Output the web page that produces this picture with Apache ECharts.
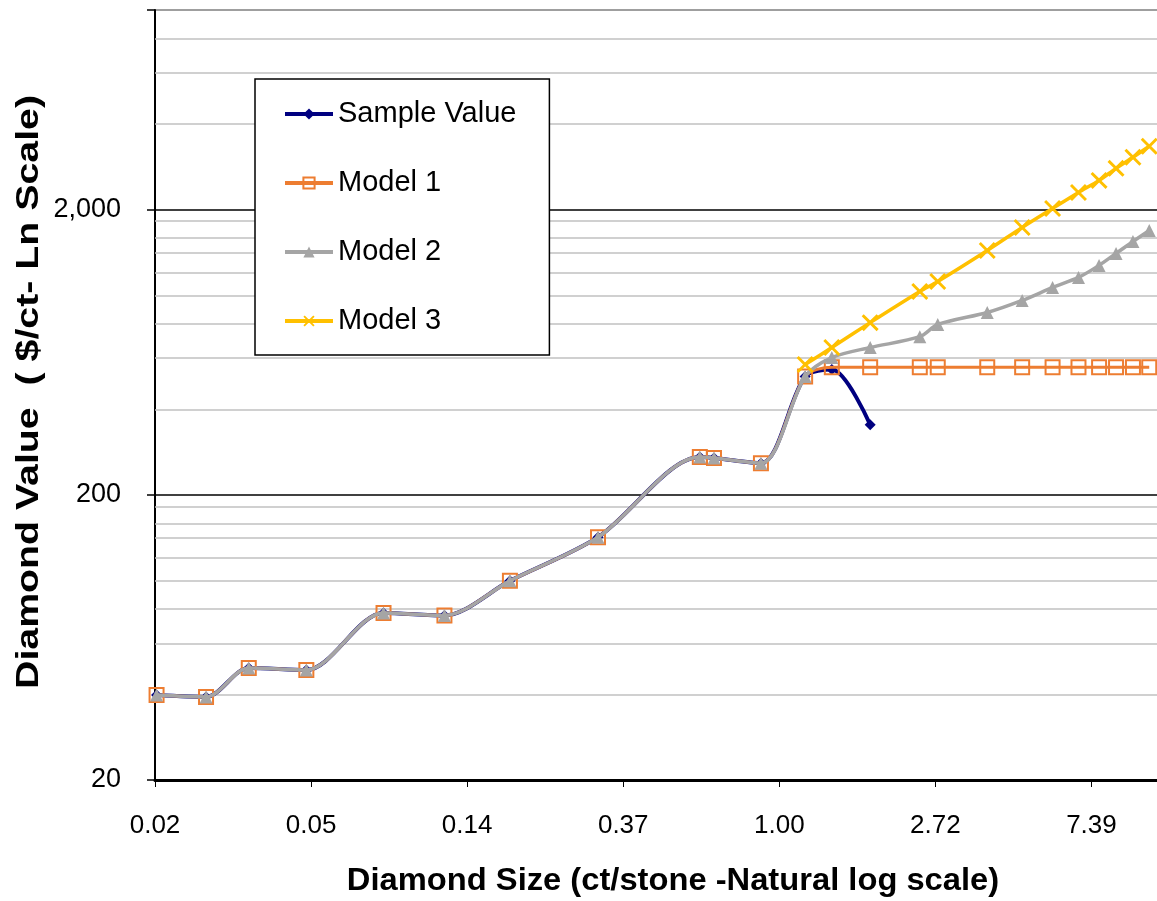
<!DOCTYPE html>
<html>
<head>
<meta charset="utf-8">
<script src="https://cdn.jsdelivr.net/npm/echarts@6/dist/echarts.min.js"></script>
<style>
html,body{margin:0;padding:0;background:#fff;}
#chart{width:1157px;height:901px;}
</style>
</head>
<body>
<div id="chart"></div>
<script>
// Diamond size (ct/stone) at each point
const sizes = [0.0185, 0.0254, 0.0334, 0.0483, 0.0792, 0.117, 0.178, 0.313, 0.601, 0.658, 0.889,
               1.18, 1.40, 1.79, 2.46, 2.76, 3.79, 4.74, 5.76, 6.80, 7.76, 8.65, 9.64, 10.7];
// Diamond value ($/ct)
const sampleValue = [39.7, 39.1, 49.4, 48.6, 77, 75.5, 99.8, 142, 271, 269, 258, 519, 549, 352,
                     null, null, null, null, null, null, null, null, null, null];
const model1 = [39.7, 39.1, 49.4, 48.6, 77, 75.5, 99.8, 142, 271, 269, 258, 519, 560, 560,
                560, 560, 560, 560, 560, 560, 560, 560, 560, 560];
const model2 = [39.7, 39.1, 49.4, 48.6, 77, 75.5, 99.8, 142, 271, 269, 258, 519, 605, 656,
                716, 790, 870, 959, 1065, 1155, 1273, 1402, 1544, 1688];
const model3 = [null, null, null, null, null, null, null, null, null, null, null, 572, 656, 802,
                1031, 1118, 1436, 1729, 2016, 2294, 2528, 2786, 3045, 3328];
const seriesNames = ['Sample Value', 'Model 1', 'Model 2', 'Model 3'];
// axis ranges
const yMinVal = 20, yMaxVal = 10000;
const xMinLn = -4, xMaxLn = 2.42;
const majorBases = [20, 200, 2000];
const minorMult = [2, 3, 4, 5, 6, 7, 8, 9];

function pairs(vals) {
  const out = [];
  sizes.forEach((s, i) => { if (vals[i] != null) out.push([Math.log(s), Math.log10(vals[i])]); });
  return out;
}
const minorLines = [];
majorBases.forEach(b => minorMult.forEach(m => { const v = b * m; if (v < yMaxVal) minorLines.push({yAxis: Math.log10(v)}); }));

const FONT = '"Liberation Sans", Arial, sans-serif';
const xShape = 'path://M0,1.2 L1.2,0 L5,3.8 L8.8,0 L10,1.2 L6.2,5 L10,8.8 L8.8,10 L5,6.2 L1.2,10 L0,8.8 L3.8,5 Z';
const yMinLog = Math.log10(yMinVal);

const chart = echarts.init(document.getElementById('chart'));
chart.setOption({
  animation: false,
  backgroundColor: '#fff',
  grid: {left: 155, right: 0, top: 10, bottom: 121, containLabel: false},
  xAxis: {
    type: 'value', min: xMinLn, max: xMaxLn, interval: 1,
    axisLine: {show: true, onZero: false, lineStyle: {color: '#000', width: 3}},
    axisTick: {show: true, length: 7, lineStyle: {color: '#000', width: 1}},
    splitLine: {show: false},
    axisLabel: {
      fontFamily: FONT, fontSize: 26, color: '#000', margin: 33,
      showMaxLabel: false,
      formatter: v => Math.abs(v - Math.round(v)) < 1e-6 ? Math.exp(v).toFixed(2) : ''
    }
  },
  yAxis: {
    type: 'value', min: yMinLog, max: Math.log10(yMaxVal), interval: 1,
    axisLine: {show: true, onZero: false, lineStyle: {color: '#000', width: 2}},
    axisTick: {show: true, length: 8, lineStyle: {color: '#000', width: 1.5}},
    splitLine: {show: true, lineStyle: {color: ['#000', '#000', '#000', '#7f7f7f'], width: 1.5}},
    axisLabel: {
      fontFamily: FONT, fontSize: 27, color: '#000', margin: 34,
      formatter: v => {
        if (v > Math.log10(yMaxVal) - 1e-3) return '';
        const k = Math.round(v - yMinLog);
        return (yMinVal * Math.pow(10, k)).toLocaleString('en-US');
      }
    }
  },
  legend: {
    data: seriesNames,
    orient: 'vertical', left: 255, top: 79,
    padding: [20, 33, 19, 28],
    itemGap: 39, itemWidth: 48, itemHeight: 14,
    backgroundColor: '#fff', borderColor: '#000', borderWidth: 1.5, borderRadius: 0,
    lineStyle: {width: 4},
    textStyle: {fontFamily: FONT, fontSize: 29, color: '#000', lineHeight: 30, padding: [0, 0, 0, 0]}
  },
  graphic: [
    {type: 'text', x: 673, y: 881, z: 10, scaleX: 1.09, scaleY: 1.05,
     style: {text: 'Diamond Size (ct/stone -Natural log scale)', font: 'bold 30px ' + FONT, fill: '#000',
             align: 'center', verticalAlign: 'middle', textAlign: 'center', textVerticalAlign: 'middle'}},
    {type: 'text', x: 29, y: 392, rotation: Math.PI / 2, z: 10, scaleX: 1.31, scaleY: 1.05,
     style: {text: 'Diamond Value  ( $/ct- Ln Scale)', font: 'bold 30px ' + FONT, fill: '#000',
             align: 'center', verticalAlign: 'middle', textAlign: 'center', textVerticalAlign: 'middle'}}
  ],
  series: [
    {name: 'minor-grid', type: 'line', data: [[xMinLn, yMinLog]], symbol: 'none',
     lineStyle: {opacity: 0}, silent: true, z: 1,
     markLine: {silent: true, symbol: 'none', z: 1, label: {show: false}, animation: false,
                lineStyle: {color: '#c0c0c0', width: 1.5, type: 'solid'}, emphasis: {disabled: true},
                data: minorLines}},
    {name: 'Sample Value', type: 'line', data: pairs(sampleValue), smooth: 0.3, z: 2,
     symbol: 'diamond', symbolSize: 11, showAllSymbol: true,
     lineStyle: {color: '#000080', width: 4}, itemStyle: {color: '#000080'}},
    {name: 'Model 1', type: 'line', data: pairs(model1), smooth: 0.3, z: 3,
     symbol: 'rect', symbolSize: 14, showAllSymbol: true,
     lineStyle: {color: '#ED7D31', width: 3},
     itemStyle: {color: 'rgba(255,255,255,0)', borderColor: '#ED7D31', borderWidth: 2}},
    {name: 'Model 2', type: 'line', data: pairs(model2), smooth: 0.3, z: 4,
     symbol: 'triangle', symbolSize: 13, showAllSymbol: true,
     lineStyle: {color: '#A5A5A5', width: 3.5}, itemStyle: {color: '#A5A5A5'}},
    {name: 'Model 3', type: 'line', data: pairs(model3), smooth: 0.3, z: 5,
     symbol: xShape, symbolSize: 17, showAllSymbol: true,
     lineStyle: {color: '#FFC000', width: 3.5}, itemStyle: {color: '#FFC000'}}
  ]
});
</script>
</body>
</html>
